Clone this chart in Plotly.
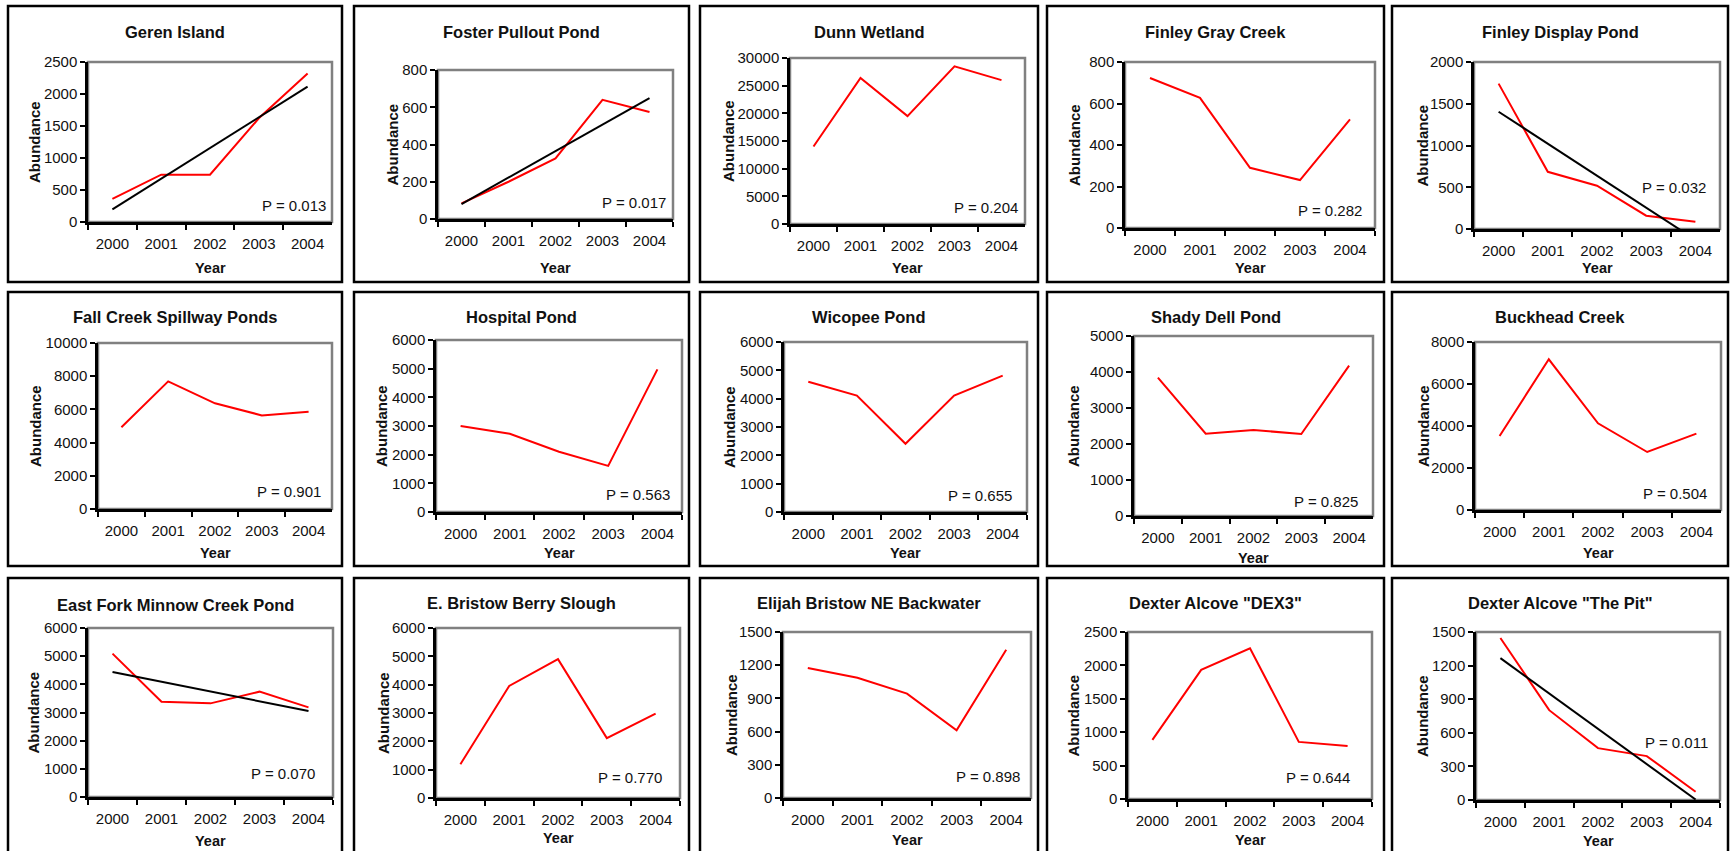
import numpy as np
import plotly.graph_objects as go

# ---------------- data ----------------
years = ["2000", "2001", "2002", "2003", "2004"]

sites = [
    "Geren Island", "Foster Pullout Pond", "Dunn Wetland", "Finley Gray Creek", "Finley Display Pond",
    "Fall Creek Spillway Ponds", "Hospital Pond", "Wicopee Pond", "Shady Dell Pond", "Buckhead Creek",
    "East Fork Minnow Creek Pond", "E. Bristow Berry Slough", "Elijah Bristow NE Backwater",
    'Dexter Alcove "DEX3"', 'Dexter Alcove "The Pit"',
]

geren = [360, 740, 740, 1620, 2320]
foster = [84, 200, 325, 640, 575]
dunn = [14000, 26400, 19500, 28500, 26000]
finley_gray = [723, 627, 290, 231, 523]
finley_display = [1741, 685, 518, 159, 88]
fall_creek = [4920, 7690, 6365, 5640, 5860]
hospital = [3000, 2730, 2100, 1608, 4975]
wicopee = [4600, 4110, 2407, 4110, 4814]
shady_dell = [3843, 2287, 2389, 2278, 4176]
buckhead = [3524, 7175, 4127, 2762, 3635]
east_fork = [5089, 3385, 3325, 3740, 3183]
e_bristow = [1193, 3957, 4902, 2114, 2976]
elijah = [1175, 1087, 943, 611, 1340]
dex3 = [885, 1933, 2256, 855, 795]
the_pit = [1447, 802, 463, 392, 74]

series = [geren, foster, dunn, finley_gray, finley_display,
          fall_creek, hospital, wicopee, shady_dell, buckhead,
          east_fork, e_bristow, elijah, dex3, the_pit]

p_values = ["0.013", "0.017", "0.204", "0.282", "0.032",
            "0.901", "0.563", "0.655", "0.825", "0.504",
            "0.070", "0.770", "0.898", "0.644", "0.011"]

has_trend = [True, True, False, False, True,
             False, False, False, False, False,
             True, False, False, False, True]

y_max = [2500, 800, 30000, 800, 2000,
         10000, 6000, 6000, 5000, 8000,
         6000, 6000, 1500, 2500, 1500]
y_step = [500, 200, 5000, 200, 500,
          2000, 1000, 1000, 1000, 2000,
          1000, 1000, 300, 500, 300]

# ---------------- layout geometry (pixels) ----------------
W, H = 1732, 851
panel_x = [(8, 342), (354, 689), (700, 1038), (1047, 1384), (1392, 1728)]
panel_y = [(6, 282), (292, 566), (578, 872)]

plot_boxes = [
    (88, 332, 62, 222), (438, 673, 70, 219), (790, 1025, 58, 224), (1125, 1375, 62, 228), (1474, 1720, 62, 229),
    (98, 332, 343, 509), (436, 682, 340, 512), (784, 1027, 342, 512), (1134, 1373, 336, 516), (1475, 1721, 342, 510),
    (88, 333, 628, 797), (436, 680, 628, 798), (783, 1031, 632, 798), (1128, 1372, 632, 799), (1476, 1720, 632, 800),
]
title_y = [32] * 5 + [317] * 5 + [605, 603, 603, 603, 603]
abund_x = [35, 392, 729, 1074, 1422, 35, 381, 729, 1073, 1423, 33, 383, 731, 1073, 1422]
year_y = [268] * 5 + [553, 553, 553, 558, 553] + [841, 838, 840, 840, 841]
p_inset = [4, 5, 5, 11, 12, 9, 10, 13, 13, 12, 16, 16, 9, 20, 10]
p_frac = [0.106, 0.114, 0.10, 0.108, 0.25, 0.108, 0.099, 0.10, 0.078, 0.10, 0.14, 0.118, 0.127, 0.13, 0.34]

FONT = "Liberation Sans, Arial, sans-serif"
TXT = "#111111"

fig = go.Figure()
layout = {}
shapes = []
annotations = []

k = np.arange(5)
for i in range(15):
    n = "" if i == 0 else str(i + 1)
    xa, ya = "x" + n, "y" + n
    vals = series[i]
    fig.add_trace(go.Scatter(x=years, y=vals, mode="lines", xaxis=xa, yaxis=ya,
                             line=dict(color="#FF0000", width=2), showlegend=False, hoverinfo="skip"))
    if has_trend[i]:
        slope, icpt = np.polyfit(k, np.array(vals, dtype=float), 1)
        fig.add_trace(go.Scatter(x=years, y=icpt + slope * k, mode="lines", xaxis=xa, yaxis=ya,
                                 line=dict(color="#000000", width=2), showlegend=False, hoverinfo="skip"))

    px0, px1, py0, py1 = plot_boxes[i]
    layout["xaxis" + n] = dict(
        domain=[px0 / W, px1 / W], anchor=ya, type="category", range=[-0.5, 4.5],
        tickson="boundaries", ticks="outside", ticklen=5, tickwidth=1.5, tickcolor="black",
        ticklabelstandoff=6, automargin=False,
        showline=True, linecolor="black", linewidth=2.5, showgrid=False, zeroline=False,
        tickfont=dict(family=FONT, size=15, color=TXT), fixedrange=True,
    )
    layout["yaxis" + n] = dict(
        domain=[1 - py1 / H, 1 - py0 / H], anchor=xa, range=[0, y_max[i]], tick0=0, dtick=y_step[i],
        tickformat="d", ticks="outside", ticklen=5, tickwidth=1.5, tickcolor="black", automargin=False,
        showline=True, linecolor="black", linewidth=2.5, showgrid=False, zeroline=False,
        tickfont=dict(family=FONT, size=15, color=TXT), fixedrange=True,
    )
    # gray plot-area frame
    shapes.append(dict(type="rect", xref=xa + " domain", yref=ya + " domain", x0=0, x1=1, y0=0, y1=1,
                       line=dict(color="#808080", width=2.5), layer="below"))
    # panel frame
    r, c = divmod(i, 5)
    bx0, bx1 = panel_x[c]
    by0, by1 = panel_y[r]
    shapes.append(dict(type="rect", xref="paper", yref="paper",
                       x0=bx0 / W, x1=bx1 / W, y0=1 - by1 / H, y1=1 - by0 / H,
                       line=dict(color="black", width=2.5)))
    # texts
    annotations.append(dict(text="<b>" + sites[i] + "</b>", xref="paper", yref="paper",
                            x=(bx0 + bx1) / 2 / W, y=1 - title_y[i] / H, xanchor="center", yanchor="middle",
                            showarrow=False, font=dict(family=FONT, size=16.5, color=TXT)))
    annotations.append(dict(text="<b>Abundance</b>", xref="paper", yref="paper",
                            x=abund_x[i] / W, y=1 - (py0 + py1) / 2 / H, xanchor="center", yanchor="middle",
                            textangle=-90, showarrow=False, font=dict(family=FONT, size=15, color=TXT)))
    annotations.append(dict(text="<b>Year</b>", xref="paper", yref="paper",
                            x=(px0 + px1) / 2 / W, y=1 - year_y[i] / H, xanchor="center", yanchor="middle",
                            showarrow=False, font=dict(family=FONT, size=14.5, color=TXT)))
    annotations.append(dict(text="P = " + p_values[i], xref=xa + " domain", yref=ya + " domain",
                            x=1 - p_inset[i] / (px1 - px0), y=p_frac[i], xanchor="right", yanchor="middle",
                            showarrow=False, font=dict(family=FONT, size=15, color=TXT)))

fig.update_layout(
    template="none",
    width=W, height=H, margin=dict(l=0, r=0, t=0, b=0, pad=0, autoexpand=False),
    paper_bgcolor="white", plot_bgcolor="white",
    shapes=shapes, annotations=annotations, showlegend=False,
    **layout,
)

fig.write_html(
    "out.html",
    config={"displayModeBar": False},
    post_script="document.body.style.margin='0px';document.body.style.padding='0px';"
                "document.documentElement.style.overflow='hidden';document.body.style.overflow='hidden';",
)
